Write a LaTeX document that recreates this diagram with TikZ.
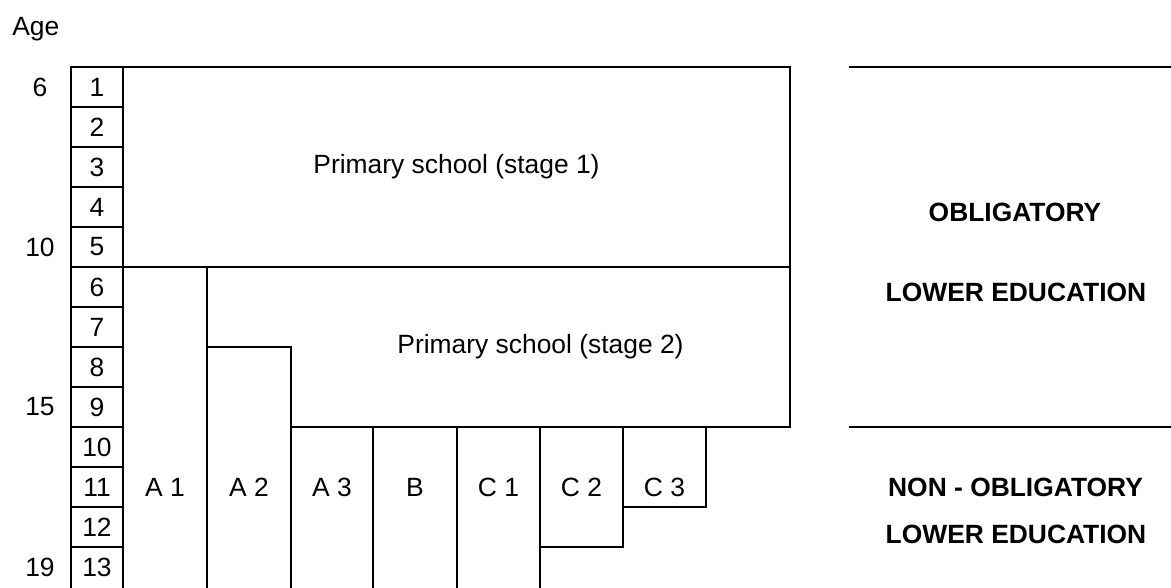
\documentclass[tikz,border=0pt]{standalone}
\usepackage{fontspec}
\setmainfont{Liberation Sans}
\usepackage{tikz}
\tikzset{
  rule/.style={line width=1.8pt, black},
  plaintext/.style={font=\fontsize{19.8}{24}\selectfont, inner sep=0pt},
  phasetext/.style={font=\fontsize{19.8}{24}\selectfont\bfseries, inner sep=0pt, anchor=base}
}

\begin{document}
\begin{tikzpicture}[x=0.75pt, y=-0.75pt]
  \useasboundingbox (0,0) rectangle (1171,587);
  \clip (0,0) rectangle (1171,587);

  \node[plaintext, anchor=base west] (age) at (12,35) {Age};
  \node[plaintext] (age6) at (40,87) {6};
  \node[plaintext] (age10) at (40,247) {10};
  \node[plaintext] (age15) at (40,407) {15};
  \node[plaintext] (age19) at (40,567) {19};

  \draw[rule] (71,600) -- (71,67) -- (123,67) -- (123,600);
  \foreach \i in {1,...,12}
    \draw[rule] (71,67+40*\i) -- (123,67+40*\i);
  \foreach \i in {1,...,13}
    \node[plaintext] (grade\i) at (97,47+40*\i) {\i};

  \draw[rule] (123,67) rectangle (790,267);
  \node[plaintext] (stage1) at (456.5,167) {Primary school (stage 1)};

  \draw[rule] (207,600) -- (207,267);
  \draw[rule] (790,267) -- (790,427) -- (291,427);
  \draw[rule] (207,347) -- (291,347) -- (291,600);
  \node[plaintext] (stage2) at (540.5,347) {Primary school (stage 2)};

  \draw[rule] (373,427) -- (373,600);
  \draw[rule] (457,427) -- (457,600);
  \draw[rule] (540,427) -- (540,600);
  \draw[rule] (540,547) -- (623,547) -- (623,427);
  \draw[rule] (623,507) -- (706,507) -- (706,427);

  \foreach \x/\name/\txt in {165/A1/A 1, 249/A2/A 2, 332/A3/A 3, 415/B/B,
                             498.5/C1/C 1, 581.5/C2/C 2, 664.5/C3/C 3}
    \node[plaintext] (col\name) at (\x,487) {\txt};

  \draw[rule] (849,67) -- (1171,67);
  \draw[rule] (849,427) -- (1171,427);
  \node[phasetext] (oblig) at (1015,221.7) {OBLIGATORY};
  \node[phasetext] (obliglower) at (1016,301.7) {LOWER EDUCATION};
  \node[phasetext] (nonoblig) at (1015.5,496.7) {NON - OBLIGATORY};
  \node[phasetext] (nonobliglower) at (1016,543) {LOWER EDUCATION};
\end{tikzpicture}
\end{document}
